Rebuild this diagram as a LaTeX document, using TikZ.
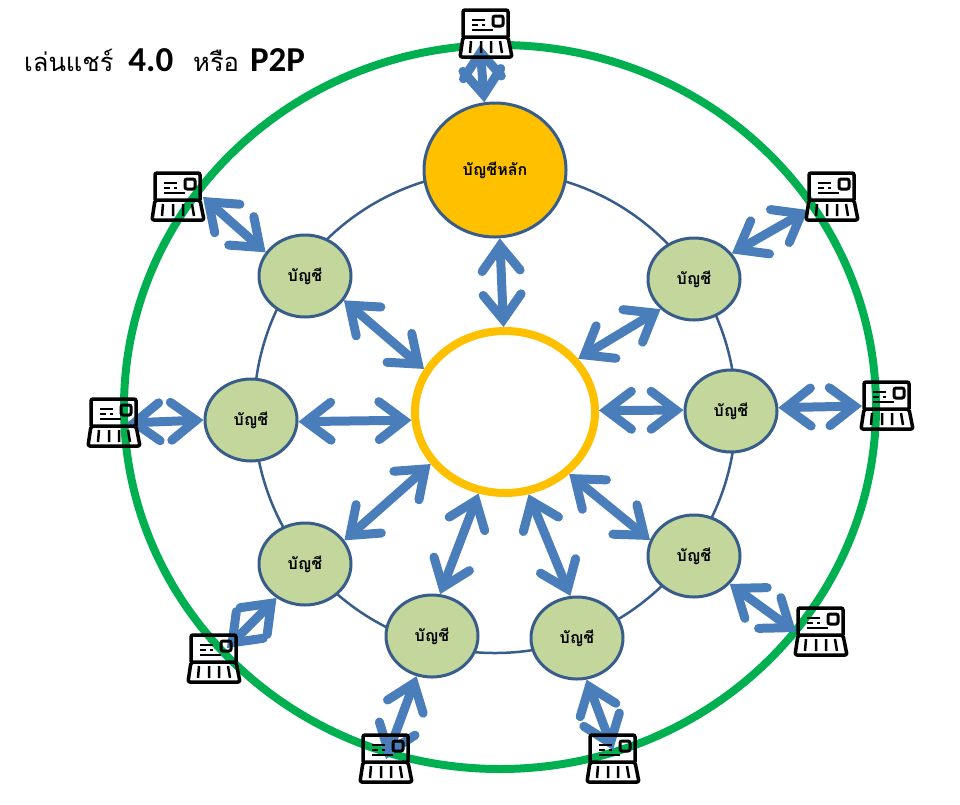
\documentclass[tikz,border=0pt]{standalone}
\usepackage{fontspec}
\setmainfont{Carlito}
\newfontfamily\thaifont[Script=Thai]{Loma}
\usetikzlibrary{arrows.meta,calc,shapes.geometric}
\definecolor{ringgreen}{HTML}{00B050}
\definecolor{hubgold}{HTML}{FFC000}
\definecolor{edgeblue}{HTML}{385D8A}
\definecolor{linkblue}{HTML}{4A7EBB}
\definecolor{acctgreen}{HTML}{C3D69B}
\tikzset{
  pics/laptop/.style={code={
    \draw[line width=3.5pt, rounded corners=2pt] (-23,3) -- (-23,-24) -- (22,-24) -- (22,3);
    \draw[line width=3.5pt, rounded corners=2pt, line join=round] (-23,3) -- (22,3) -- (26,23) -- (-26,23) -- cycle;
    \draw[line width=2.5pt] (-14,-14) -- (-1,-14) (-14,-9) -- (-8,-9) (-4,-9) -- (-1,-9) (-14,-4) -- (7,-4);
    \draw[line width=3pt, rounded corners=2pt] (7,-18) rectangle (17,-8);
    \draw[line width=2.5pt] (-15,7) -- (-16,19) (-5,7) -- (-5,19) (5,7) -- (5,19) (14,7) -- (16,19);
  }}
}
\begin{document}
\begin{tikzpicture}[
  x=1pt, y=-1pt,
  font=\thaifont\bfseries\fontsize{16}{19}\selectfont,
  acct/.style={ellipse, draw=edgeblue, line width=3pt, fill=acctgreen, inner sep=0pt,
    minimum width=92pt, minimum height=82pt},
  spot/.style={rectangle, inner sep=0pt, outer sep=0pt, minimum width=50pt, minimum height=48pt},
  link/.style={draw=linkblue, line width=9pt, line cap=round,
    {Straight Barb[length=25pt,width=38pt,round,line join=miter]}-{Straight Barb[length=25pt,width=38pt,round,line join=miter]}}
]
\useasboundingbox (0,0) rectangle (960,804);
\draw[ringgreen, line width=8pt] (500,407) ellipse [x radius=376, y radius=362];
\draw[edgeblue, line width=2.5pt] (495,412) circle [radius=241];
\node[ellipse, draw=edgeblue, line width=3pt, fill=hubgold, inner sep=0pt,
  minimum width=142pt, minimum height=134pt] (mast) at (495,170) {บัญชีหลัก};
\node[ellipse, draw=hubgold, line width=8pt, fill=white, inner sep=0pt,
  minimum width=180pt, minimum height=162pt] (hub) at (505,412) {};
\node[acct] (acct1) at (694,279) {บัญชี};
\node[acct] (acct2) at (731,411) {บัญชี};
\node[acct] (acct3) at (694,556) {บัญชี};
\node[acct] (acct4) at (577,638) {บัญชี};
\node[acct] (acct5) at (432,636) {บัญชี};
\node[acct] (acct6) at (305,564) {บัญชี};
\node[acct] (acct7) at (251,420) {บัญชี};
\node[acct] (acct8) at (305,276) {บัญชี};
\node[spot] (lapn) at (486,34) {};
\node[spot] (lapne) at (832,197) {};
\node[spot] (lape) at (887,406) {};
\node[spot] (lapse) at (821,632) {};
\node[spot] (lapss) at (613,759) {};
\node[spot] (lapsw) at (386,759) {};
\node[spot] (lapw) at (214,659) {};
\node[spot] (lapww) at (114,423) {};
\node[spot] (lapnw) at (178,197) {};
\node[anchor=base west, inner sep=0pt, font=\thaifont\fontsize{25.5}{30}\selectfont] (title) at (24,71)
  {เล่นแชร์\hspace*{15pt}{\normalfont\bfseries\fontsize{35}{36}\selectfont 4.0}\hspace*{20pt}หรือ\hspace*{11pt}{\normalfont\bfseries\fontsize{35}{36}\selectfont P2P}};
\fill[white] ($(lapn)+(-23,3)$) -- ($(lapn)+(22,3)$) -- ($(lapn)+(26,23)$) -- ($(lapn)+(-26,23)$) -- cycle;
\draw[link] (mast.274) -- (hub.91);
\draw[link] (acct1.222) -- (hub.36);
\draw[link] (acct2.179) -- (hub.1);
\draw[link] (acct3.160) -- (hub.-44);
\draw[link] (acct4.99) -- (hub.-74);
\draw[link] (acct5.79) -- (hub.252);
\draw[link] (acct6.31) -- (hub.215);
\draw[link] (acct7.-2) -- (hub.185);
\draw[link] (acct8.-32) -- (hub.152);
\draw[link] ($(lapn)+(-6,11)$) -- (mast.99);
\draw[link] ($(lapne)+(-24,13)$) -- (acct1.34);
\draw[link] (lape.west) -- (acct2.4);
\draw[link] (lapse.west) -- (acct3.-38);
\draw[link] ($(lapss)+(0,-9)$) -- (acct4.-77);
\draw[link] (lapsw.center) -- (acct5.249);
\draw[link] ($(lapw)+(13,-11)$) -- (acct6.230);
\draw[link] ($(lapww)+(13,0)$) -- (acct7.180);
\draw[link] (lapnw.east) -- (acct8.149);
\pic at (lapn) {laptop};
\pic at (lapne) {laptop};
\pic at (lape) {laptop};
\pic at (lapse) {laptop};
\pic at (lapss) {laptop};
\pic at (lapsw) {laptop};
\pic at (lapw) {laptop};
\pic at (lapww) {laptop};
\pic at (lapnw) {laptop};
\end{tikzpicture}
\end{document}
